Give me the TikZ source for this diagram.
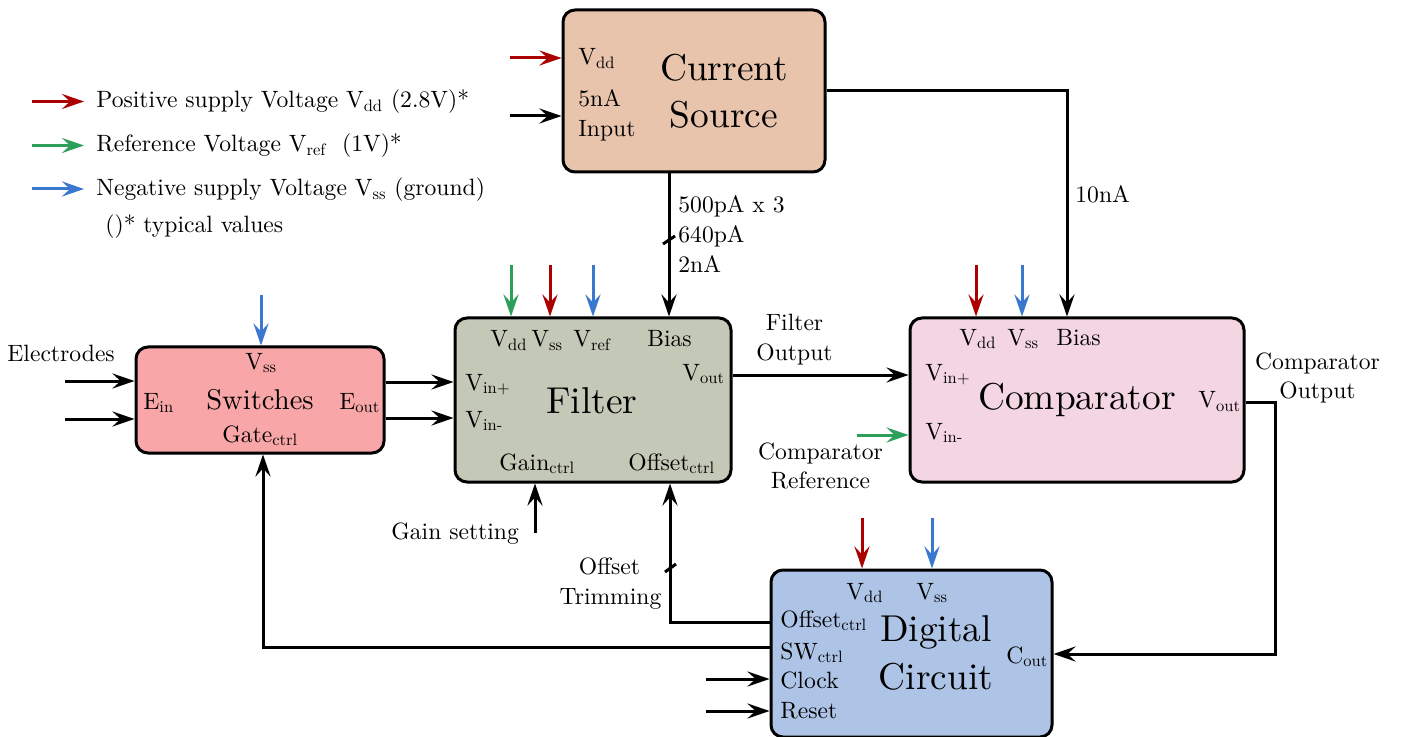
\documentclass[tikz,border=0pt]{standalone}
\usepackage{fontspec}
\setmainfont{lmroman10-regular.otf}[BoldFont=lmroman10-bold.otf,ItalicFont=lmroman10-italic.otf]
\usetikzlibrary{arrows.meta,calc}
\definecolor{cred}{HTML}{AA0000}
\definecolor{cgreen}{HTML}{2E9E5B}
\definecolor{cblue}{HTML}{3A78CF}
\definecolor{csfill}{HTML}{E8C4AD}
\definecolor{swfill}{HTML}{F9A6A8}
\definecolor{fifill}{HTML}{C4C8B6}
\definecolor{cofill}{HTML}{F4D6E3}
\definecolor{dgfill}{HTML}{AEC4E7}
\newcommand{\lsub}[1]{\textsubscript{#1}}
\begin{document}
\begin{tikzpicture}[x=0.5pt,y=-0.5pt,
  font=\fontsize{11.8}{14}\selectfont,
  box/.style={draw,line width=1.5pt,rounded corners=6pt,inner sep=0pt},
  arr/.style={line width=1.5pt,-{Stealth[length=11pt,width=7.5pt,inset=4pt]}},
  wire/.style={line width=1.5pt},
  lbl/.style={anchor=base west,inner sep=0pt},
  clbl/.style={anchor=base,inner sep=0pt},
  big/.style={anchor=base,inner sep=0pt,font=\fontsize{18.7}{23.5}\selectfont},
  mid/.style={anchor=base,inner sep=0pt,font=\fontsize{14.3}{17}\selectfont}]
\useasboundingbox (0,0) rectangle (1401,737);

% ---------------- boxes ----------------
\node[box,fill=csfill,minimum width=131pt,minimum height=81pt] (cs) at (694,91) {};
\node[box,fill=swfill,minimum width=124pt,minimum height=53pt] (sw) at (260,400) {};
\node[box,fill=fifill,minimum width=138pt,minimum height=82pt] (fi) at (593,400) {};
\node[box,fill=cofill,minimum width=167pt,minimum height=82pt] (co) at (1077,400) {};
\node[box,fill=dgfill,minimum width=140.5pt,minimum height=83.5pt] (dg) at (911.5,653.5) {};

% ---------------- legend ----------------
\coordinate (lg1a) at (32,101.5); \coordinate (lg1b) at (84,101.5);
\coordinate (lg2a) at (32,145.5); \coordinate (lg2b) at (84,145.5);
\coordinate (lg3a) at (32,189);   \coordinate (lg3b) at (84,189);
\draw[arr,cred] (lg1a) -- (lg1b);
\draw[arr,cgreen] (lg2a) -- (lg2b);
\draw[arr,cblue] (lg3a) -- (lg3b);
\node[lbl] (lgt1) at (96,108) {Positive supply Voltage V\lsub{dd} (2.8V)*};
\node[lbl] (lgt2) at (96,152) {Reference Voltage V\lsub{ref}\ \ (1V)*};
\node[lbl] (lgt3) at (96,196) {Negative supply Voltage V\lsub{ss} (ground)};
\node[lbl] (lgt4) at (105,233) {()* typical values};

% ---------------- current source ----------------
\coordinate (csin1) at (510,58);
\coordinate (csin2) at (510,116);
\draw[arr,cred] (csin1) -- (csin1 -| cs.west);
\draw[arr] (csin2) -- (csin2 -| cs.west);
\node[lbl] (csvdd) at (578,65) {V\lsub{dd}};
\node[lbl] (cs5na) at (578,107) {5nA};
\node[lbl] (csinp) at (578,137) {Input};
\node[big] (cst1) at (724,81) {Current};
\node[big] (cst2) at (724,128) {Source};

% bias to filter
\coordinate (fbias) at (669,0);
\draw[arr] (cs.south -| fbias) -- (fi.north -| fbias);
\draw[wire] (663,244) -- (675,236);
\node[lbl] (bl1) at (678,213) {500pA x 3};
\node[lbl] (bl2) at (678,243) {640pA};
\node[lbl] (bl3) at (678,273) {2nA};

% bias to comparator
\coordinate (cbias) at (1067,0);
\draw[arr] (cs.east) -| (co.north -| cbias);
\node[lbl] (bl4) at (1075,203) {10nA};

% ---------------- switches ----------------
\coordinate (swvss) at (261,295);
\draw[arr,cblue] (swvss) -- (swvss |- sw.north);
\node[lbl] (electr) at (7,362) {Electrodes};
\coordinate (ein1) at (65,381);
\coordinate (ein2) at (65,419);
\draw[arr] (ein1) -- (ein1 -| sw.west);
\draw[arr] (ein2) -- (ein2 -| sw.west);
\node[lbl] (swvsst) at (245,369) {V\lsub{ss}};
\node[lbl] (swein) at (143,409) {E\lsub{in}};
\node[mid] (swt) at (260,409) {Switches};
\node[lbl] (sweout) at (339,409) {E\lsub{out}};
\node[lbl] (swgate) at (222,442) {Gate\lsub{ctrl}};
\coordinate (so1) at (0,382);
\coordinate (so2) at (0,418);
\draw[arr] (sw.east |- so1) -- (fi.west |- so1);
\draw[arr] (sw.east |- so2) -- (fi.west |- so2);

% ---------------- filter ----------------
\coordinate (fvdd) at (511,265);
\coordinate (fvss) at (550,265);
\coordinate (fvref) at (593,265);
\draw[arr,cgreen] (fvdd) -- (fvdd |- fi.north);
\draw[arr,cred] (fvss) -- (fvss |- fi.north);
\draw[arr,cblue] (fvref) -- (fvref |- fi.north);
\node[lbl] (fvddt) at (490,347) {V\lsub{dd}};
\node[lbl] (fvsst) at (531,347) {V\lsub{ss}};
\node[lbl] (fvreft) at (573,347) {V\lsub{ref}};
\node[lbl] (fbiast) at (647,347) {Bias};
\node[lbl] (fvout) at (682,380) {V\lsub{out}};
\node[lbl] (fvinp) at (465,390) {V\lsub{in+}};
\node[lbl] (fvinm) at (465,427) {V\lsub{in-}};
\node[big] (fit) at (592,413) {Filter};
\node[lbl] (fgain) at (499,470) {Gain\lsub{ctrl}};
\node[lbl] (foff) at (628,470) {Offset\lsub{ctrl}};

\coordinate (gainin) at (535,533);
\draw[arr] (gainin) -- (gainin |- fi.south);
\node[lbl] (gaint) at (391,539) {Gain setting};

% filter output
\coordinate (fo) at (0,375);
\draw[arr] (fi.east |- fo) -- (co.west |- fo);
\node[clbl] (fot1) at (794.5,330) {Filter};
\node[clbl] (fot2) at (794.5,360) {Output};

% ---------------- comparator ----------------
\coordinate (cvdd) at (976,265);
\coordinate (cvss) at (1022,265);
\draw[arr,cred] (cvdd) -- (cvdd |- co.north);
\draw[arr,cblue] (cvss) -- (cvss |- co.north);
\node[lbl] (cvddt) at (959,345) {V\lsub{dd}};
\node[lbl] (cvsst) at (1007,345) {V\lsub{ss}};
\node[lbl] (cbiast) at (1056,345) {Bias};
\node[lbl] (cvinp) at (925,380) {V\lsub{in+}};
\node[lbl] (cvinm) at (925,439) {V\lsub{in-}};
\node[big] (cot) at (1077,409) {Comparator};
\node[lbl] (cvout) at (1198,408) {V\lsub{out}};
\coordinate (cref) at (857,435);
\draw[arr,cgreen] (cref) -- (cref -| co.west);
\node[clbl] (crt1) at (820.5,459) {Comparator};
\node[clbl] (crt2) at (820.5,488) {Reference};
\node[clbl] (cot1) at (1317.5,370) {Comparator};
\node[clbl] (cot2) at (1317.5,398) {Output};

% comparator output to digital
\coordinate (coy) at (0,402);
\coordinate (cox) at (1275,654);
\draw[arr] (co.east |- coy) -| (cox) -- (cox -| dg.east);

% ---------------- digital ----------------
\coordinate (dvdd) at (862,518);
\coordinate (dvss) at (932,518);
\draw[arr,cred] (dvdd) -- (dvdd |- dg.north);
\draw[arr,cblue] (dvss) -- (dvss |- dg.north);
\node[lbl] (dvddt) at (846,599) {V\lsub{dd}};
\node[lbl] (dvsst) at (916,599) {V\lsub{ss}};
\node[lbl] (doff) at (780,627) {Offset\lsub{ctrl}};
\node[lbl] (dsw) at (780,659) {SW\lsub{ctrl}};
\node[lbl] (dclk) at (780,688) {Clock};
\node[lbl] (drst) at (780,718) {Reset};
\node[big] (dgt1) at (936,641) {Digital};
\node[big] (dgt2) at (936,689) {Circuit};
\node[lbl] (dcout) at (1006,663) {C\lsub{out}};
\coordinate (clkin) at (706,679);
\coordinate (rstin) at (706,711);
\draw[arr] (clkin) -- (clkin -| dg.west);
\draw[arr] (rstin) -- (rstin -| dg.west);

% offset trimming
\coordinate (offy) at (0,622);
\coordinate (offx) at (670,0);
\draw[arr] (dg.west |- offy) -| (fi.south -| offx);
\draw[wire] (665,572) -- (676,564);
\node[clbl] (offt1) at (609.5,574) {Offset};
\node[clbl] (offt2) at (610.5,604) {Trimming};

% switch control
\coordinate (swy) at (0,647);
\coordinate (swx) at (263,0);
\draw[arr] (dg.west |- swy) -| (sw.south -| swx);
\end{tikzpicture}
\end{document}
